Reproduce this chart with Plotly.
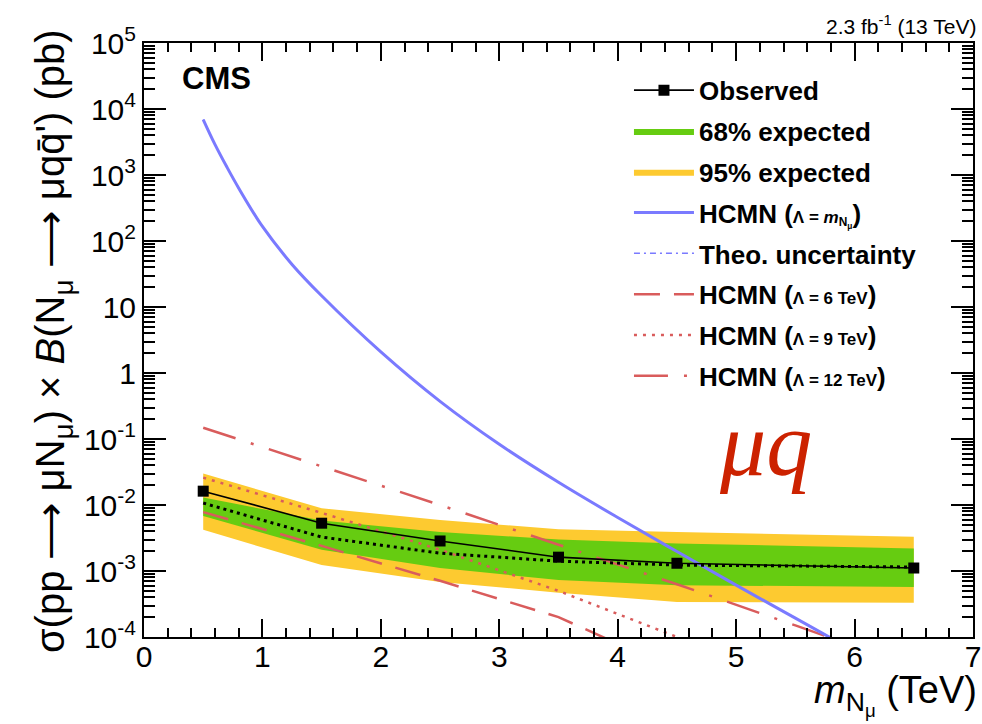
import plotly.graph_objects as go

# ---------------- data ----------------
mass = [0.5, 1.5, 2.5, 3.5, 4.5, 6.5]
observed = [0.0162, 0.0053, 0.00285, 0.00162, 0.00131, 0.00111]
expected = [0.0107, 0.00327, 0.00186, 0.00141, 0.00123, 0.00115]
exp68_up = [0.013, 0.0058, 0.0039, 0.0030, 0.0026, 0.0022]
exp68_dn = [0.0068, 0.0021, 0.00111, 0.00073, 0.00061, 0.00057]
exp95_up = [0.030, 0.0089, 0.0059, 0.0043, 0.0039, 0.0033]
exp95_dn = [0.0042, 0.00123, 0.00068, 0.00047, 0.00034, 0.00033]

hcmn_mass = [0.5, 0.6, 0.7, 0.8, 1.0, 1.25, 1.5, 2.0, 2.5, 3.0, 3.5, 4.0, 4.5, 5.0, 5.5, 6.0]
hcmn_xsec = [6918, 2884, 1318, 631, 166, 44.2, 14.8, 2.09, 0.372, 0.0832, 0.0221, 0.00646,
             0.00197, 0.00061, 0.000193, 0.000061]

l6_mass = [0.5, 1.5, 2.5, 3.5, 4.0]
l6_xsec = [0.0078, 0.0024, 0.00071, 0.0002, 0.000079]
l9_mass = [0.5, 1.5, 2.5, 3.5, 4.5, 5.0]
l9_xsec = [0.026, 0.0076, 0.0021, 0.0005, 0.0001, 0.00005]
l12_mass = [0.5, 1.5, 2.5, 3.5, 4.5, 5.5, 6.0]
l12_xsec = [0.148, 0.039, 0.010, 0.0025, 0.00063, 0.00015, 0.000072]

x_ticks = [0, 1, 2, 3, 4, 5, 6, 7]
x_minor_ticks = [i / 5 for i in range(0, 36)]
y_ticks = [1e-4, 1e-3, 1e-2, 1e-1, 1, 10, 1e2, 1e3, 1e4, 1e5]
y_ticktext = ["10<sup>-4</sup>", "10<sup>-3</sup>", "10<sup>-2</sup>", "10<sup>-1</sup>",
              "1", "10", "10<sup>2</sup>", "10<sup>3</sup>", "10<sup>4</sup>", "10<sup>5</sup>"]
y_minor_ticks = [m * 10 ** e for e in range(-4, 5) for m in range(2, 10)]

# ---------------- style ----------------
FONT = "Liberation Sans, Arial, Helvetica, sans-serif"
GREEN = "#66cc11"
YELLOW = "#fdca30"
BLUE = "#7a7aff"
RED = "#d95c5c"
small = "<span style='font-size:17px'>"

fig = go.Figure()

# 95% band
fig.add_trace(go.Scatter(x=mass, y=exp95_dn, mode="lines", line=dict(width=0, color=YELLOW),
                         showlegend=False, legendgroup="g95", hoverinfo="skip"))
fig.add_trace(go.Scatter(x=mass, y=exp95_up, mode="lines", line=dict(width=0, color=YELLOW),
                         fill="tonexty", fillcolor=YELLOW, name="95% expected",
                         legendgroup="g95", legendrank=3))
# 68% band
fig.add_trace(go.Scatter(x=mass, y=exp68_dn, mode="lines", line=dict(width=0, color=GREEN),
                         showlegend=False, legendgroup="g68", hoverinfo="skip"))
fig.add_trace(go.Scatter(x=mass, y=exp68_up, mode="lines", line=dict(width=0, color=GREEN),
                         fill="tonexty", fillcolor=GREEN, name="68% expected",
                         legendgroup="g68", legendrank=2))

# HCMN lambda lines
fig.add_trace(go.Scatter(x=l6_mass, y=l6_xsec, mode="lines",
                         line=dict(color=RED, width=2.5, dash="26px,14px"),
                         name="HCMN (" + small + "Λ = 6 TeV</span>)", legendgroup="l6", legendrank=6))
fig.add_trace(go.Scatter(x=l9_mass, y=l9_xsec, mode="lines",
                         line=dict(color=RED, width=2.5, dash="3px,6px"),
                         name="HCMN (" + small + "Λ = 9 TeV</span>)", legendgroup="l9", legendrank=7))
fig.add_trace(go.Scatter(x=l12_mass, y=l12_xsec, mode="lines",
                         line=dict(color=RED, width=2.5, dash="34px,16px,3px,16px"),
                         name="HCMN (" + small + "Λ = 12 TeV</span>)", legendgroup="l12", legendrank=8))

# HCMN Lambda = m_N and theory uncertainty
fig.add_trace(go.Scatter(x=hcmn_mass, y=hcmn_xsec, mode="lines", line_shape="spline",
                         line=dict(color=BLUE, width=1.5, dash="6px,4px,2px,4px"),
                         name="Theo. uncertainty", legendgroup="theo", legendrank=5))
fig.add_trace(go.Scatter(x=hcmn_mass, y=hcmn_xsec, mode="lines", line_shape="spline",
                         line=dict(color=BLUE, width=3),
                         name="HCMN (" + small + "Λ = <i>m</i><sub>N<sub>μ</sub></sub></span>)",
                         legendgroup="hcmn", legendrank=4))

# expected and observed
fig.add_trace(go.Scatter(x=mass, y=expected, mode="lines",
                         line=dict(color="black", width=3, dash="3px,4px"),
                         showlegend=False, hoverinfo="skip"))
fig.add_trace(go.Scatter(x=mass, y=observed, mode="lines+markers",
                         line=dict(color="black", width=1.6),
                         marker=dict(symbol="square", size=11, color="black"),
                         name="Observed", legendgroup="obs", legendrank=1))

# empty traces so the overlaid tick-only axes are drawn
for k in (2, 3, 4):
    fig.add_trace(go.Scatter(x=[None], y=[None], xaxis=f"x{k}", yaxis=f"y{k}",
                             showlegend=False, hoverinfo="skip"))

tick_font = dict(family=FONT, size=30, color="black")


def tick_axis(kind, vals, length, width, side, anchor, overlay):
    d = dict(tickmode="array", tickvals=vals, ticks="inside", ticklen=length,
             tickwidth=width, tickcolor="#000000", showticklabels=False, showline=False,
             mirror="ticks", showgrid=False, zeroline=False, automargin=False,
             side=side, anchor=anchor, overlaying=overlay)
    if kind == "x":
        d["range"] = [0, 7]
    else:
        d["type"] = "log"
        d["range"] = [-4, 5]
    return d


fig.update_layout(
    width=982, height=724,
    margin=dict(l=144, r=9, t=43, b=87, autoexpand=False),
    paper_bgcolor="white", plot_bgcolor="white",
    font=dict(family=FONT, color="black"),
    xaxis=dict(range=[0, 7], tickmode="array", tickvals=x_ticks, ticks="inside", ticklen=18,
               tickwidth=2.2, tickcolor="#000000", showline=True, linewidth=2, linecolor="black",
               mirror="ticks", showgrid=False, zeroline=False, tickfont=tick_font,
               automargin=False, layer="above traces", ticklabelstandoff=-8),
    yaxis=dict(type="log", range=[-4, 5], tickmode="array", tickvals=y_ticks,
               ticktext=y_ticktext, ticks="inside", ticklen=22, tickwidth=2.2,
               tickcolor="#000000", showline=True, linewidth=2, linecolor="black",
               mirror="ticks", showgrid=False, zeroline=False, tickfont=tick_font,
               automargin=False, layer="above traces"),
    # minor ticks (bottom/left primary, top/right mirrored)
    xaxis2=tick_axis("x", x_minor_ticks, 9, 1.8, "bottom", "y2", "x"),
    yaxis2=tick_axis("y", y_minor_ticks, 11, 1.6, "left", "x2", "y"),
    # major ticks from the opposite sides (mirrored back onto bottom/left)
    xaxis3=tick_axis("x", x_ticks, 18, 2.2, "top", "y3", "x"),
    yaxis3=tick_axis("y", y_ticks, 22, 2.2, "right", "x3", "y"),
    # minor ticks from the opposite sides
    xaxis4=tick_axis("x", x_minor_ticks, 9, 1.8, "top", "y4", "x"),
    yaxis4=tick_axis("y", y_minor_ticks, 11, 1.6, "right", "x4", "y"),
    legend=dict(x=0.585, y=0.96, xanchor="left", yanchor="top",
                bgcolor="rgba(0,0,0,0)", traceorder="grouped", tracegroupgap=4,
                font=dict(family=FONT, size=26, color="black", weight="bold"),
                itemwidth=60),
    showlegend=True,
)

fig.add_annotation(text="CMS", xref="paper", yref="paper", x=0.044, y=0.941,
                   xanchor="left", yanchor="middle", showarrow=False,
                   font=dict(family=FONT, size=31, color="black", weight="bold"))
fig.add_annotation(text="2.3 fb<sup>-1</sup> (13 TeV)", xref="paper", yref="paper",
                   x=1.006, y=1.03, xanchor="right", yanchor="middle", showarrow=False,
                   font=dict(family=FONT, size=21, color="black"))
fig.add_annotation(text="<i>μq</i>", xref="paper", yref="paper", x=0.75, y=0.325,
                   xanchor="center", yanchor="middle", showarrow=False,
                   font=dict(family="Liberation Serif, DejaVu Serif, serif", size=92,
                             color="#cc2200"))
fig.add_annotation(text="<i>m</i><sub>N<sub>μ</sub></sub> (TeV)", xref="paper", yref="paper",
                   x=1.007, y=-0.097, xanchor="right", yanchor="middle", showarrow=False,
                   font=dict(family=FONT, size=38, color="black"))
fig.add_annotation(text="σ(pp ⟶ μN<sub>μ</sub>) × <i>B</i>(N<sub>μ</sub> ⟶ μqq\u0304') (pb)",
                   xref="paper", yref="paper", x=-0.109, y=0.4975, textangle=-90,
                   xanchor="center", yanchor="middle", showarrow=False,
                   font=dict(family=FONT, size=40, color="black"))

fig.write_html("out.html", config={"displayModeBar": False},
               post_script="document.body.style.margin='0';document.body.style.overflow='hidden';")
